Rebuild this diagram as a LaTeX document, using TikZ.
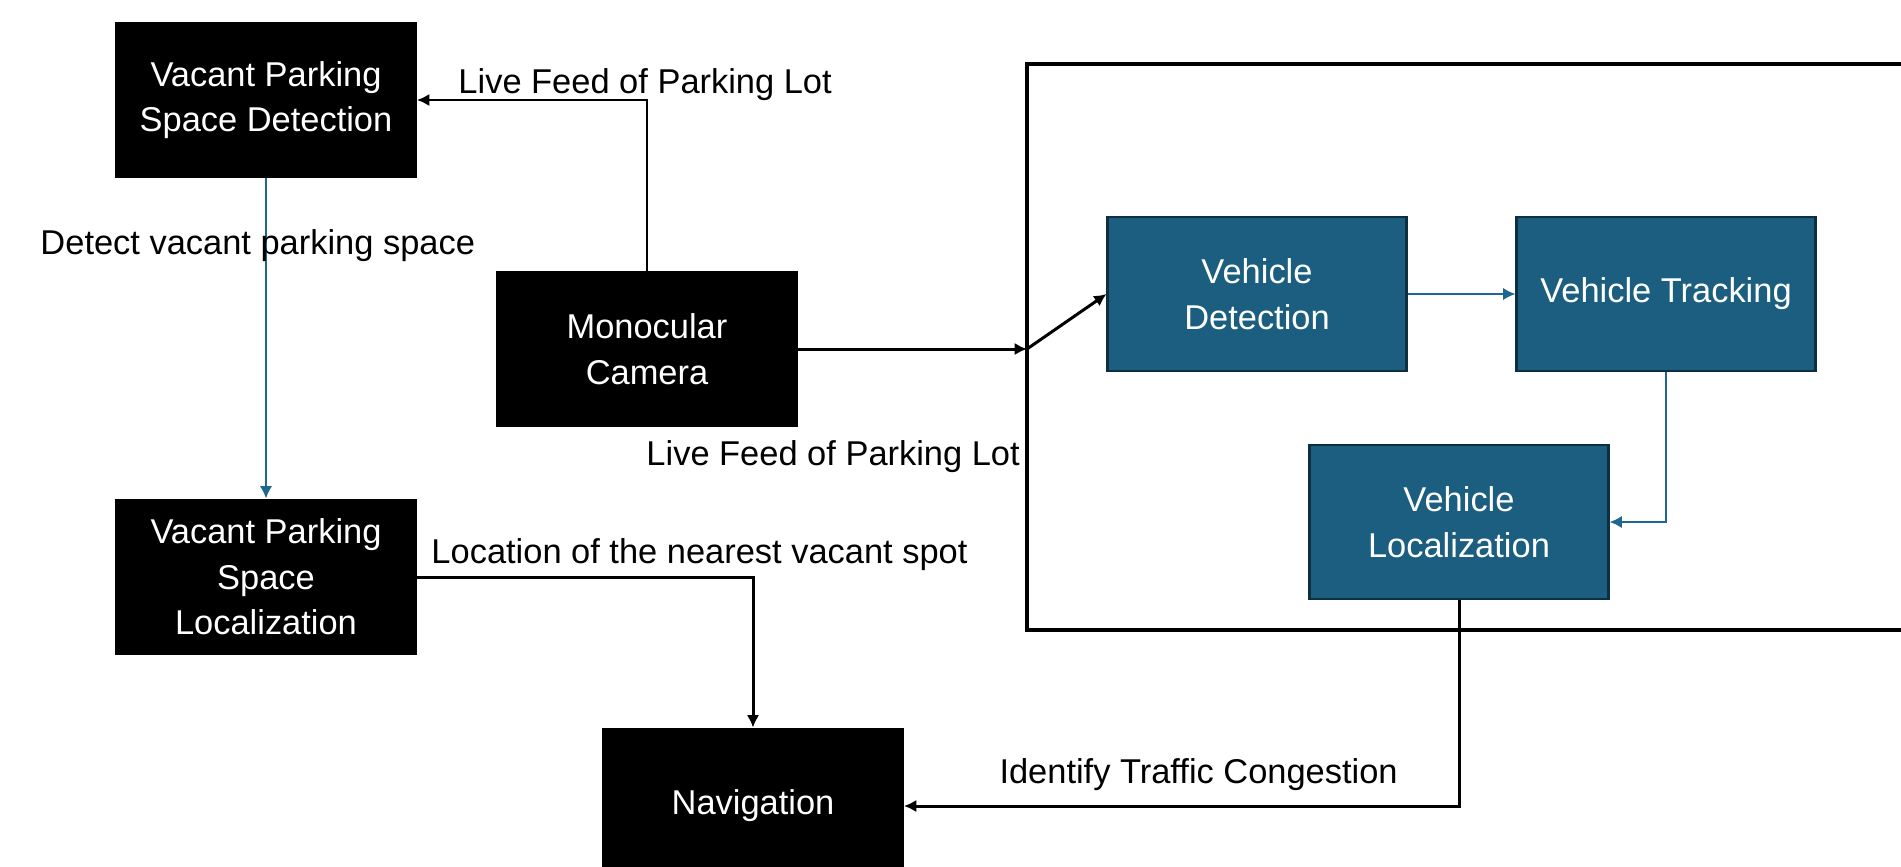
\documentclass[tikz,border=0pt]{standalone}
\usepackage{fontspec}
\setmainfont{Liberation Sans}
\usetikzlibrary{arrows.meta, positioning}
\definecolor{cteal}{HTML}{1B5E7F}
\definecolor{cdeep}{HTML}{0E2F40}
\definecolor{cline}{HTML}{1D6790}
\tikzset{
  every picture/.style={font=\fontsize{19.6}{26}\selectfont, line width=1.7pt},
  box/.style={fill=#1, draw=#1, text=white, align=center, minimum width=5.98cm, minimum height=3.08cm, inner sep=4pt},
  box/.default=black,
  vbox/.style={box=cteal, draw=cdeep, line width=1.2pt},
  arrow/.style={-{Latex[length=7pt, width=7pt]}, draw=black, line width=1.7pt},
  barrow/.style={-{Latex[length=7pt, width=7pt]}, draw=cline, line width=1.2pt},
  frame/.style={draw=black, line width=1.8pt},
  note/.style={anchor=west, inner sep=0pt},
}

\begin{document}
\begin{tikzpicture}[x=0.02cm, y=-0.02cm]
  \useasboundingbox (0,0) rectangle (1901,866);
  % parking side
  \node[box] (vpsd) at (266,100) {Vacant Parking\\Space Detection};
  \node[box] (cam) at (647,349) {Monocular\\Camera};
  \node[box] (vpsl) at (266,577) {Vacant Parking\\Space\\Localization};
  \node[box] (nav) at (753,806) {Navigation};
  % vehicle side
  \coordinate (fnw) at (1027,64);
  \coordinate (fsw) at (1027,630);
  \draw[frame] (1920,64) -- (fnw) -- (fsw) -- (1920,630);
  \node[vbox] (vd) at (1257,294) {Vehicle\\Detection};
  \node[vbox] (vt) at (1666,294) {Vehicle Tracking};
  \node[vbox] (vl) at (1459,522) {Vehicle\\Localization};
  \coordinate (fin) at (fnw |- cam.east);

  \draw[arrow] (cam.north) |- (vpsd.east);
  \draw[arrow] (cam.east) -- (fin);
  \draw[arrow] (fin) -- (vd.west);
  \draw[barrow] (vpsd.south) -- (vpsl.north);
  \draw[barrow] (vd.east) -- (vt.west);
  \draw[barrow] (vt.south) |- (vl.east);
  \draw[arrow] (vl.south) |- (nav.east);
  \draw[arrow] (vpsl.east) -| (nav.north);

  \node[note] (lfa) at (457,85) {Live Feed of Parking Lot};
  \node[note] (lfb) at (645,457) {Live Feed of Parking Lot};
  \node[note] (dvs) at (39,246) {Detect vacant parking space};
  \node[note] (lnv) at (430,555) {Location of the nearest vacant spot};
  \node[note] (itc) at (998,775) {Identify Traffic Congestion};
\end{tikzpicture}
\end{document}
